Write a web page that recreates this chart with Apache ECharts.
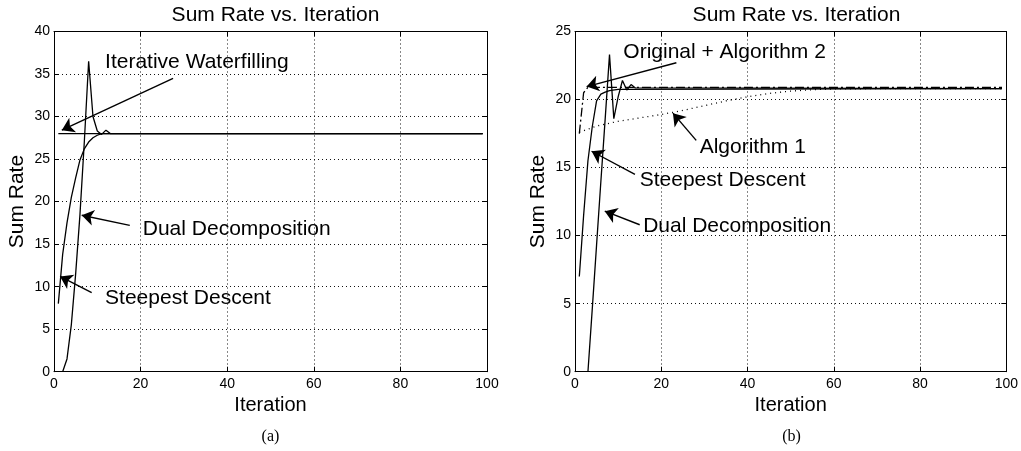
<!DOCTYPE html>
<html>
<head>
<meta charset="utf-8">
<title>Sum Rate vs. Iteration</title>
<script src="https://cdn.jsdelivr.net/npm/echarts@6/dist/echarts.min.js"></script>
<style>
    html, body { margin: 0; padding: 0; background: #fff; }
    #chart { width: 1021px; height: 451px; }
</style>
</head>
<body>
<div id="chart"></div>
<script>
    // ---- data: [iteration, sum rate] ----
    // (a)
    var waterfillA = [[1, 28], [99, 28]];
    var dualA = [[2, 0], [3, 1.5], [4, 5.5], [5, 11.5], [6, 18.5], [7, 27], [8, 36.5], [9, 30], [10, 28.3],
                 [11, 27.9], [12, 28.4], [13, 28], [99, 28]];
    var steepestA = [[1, 8], [2, 13.8], [3, 17.5], [4, 20.5], [5, 22.8], [6, 24.9], [7, 26.2], [8, 27],
                     [9, 27.5], [10, 27.8], [11, 28], [99, 28]];
    // (b)
    var dualB = [[3, 0], [4, 4.6], [5, 9.3], [6, 14], [7, 18.6], [8, 23.3], [9, 18.6], [10, 20.2], [11, 21.4],
                 [12, 20.7], [13, 21.1], [14, 20.85], [99, 20.8]];
    var steepestB = [[1, 7], [2, 11.5], [3, 15.5], [4, 18], [5, 19.9], [6, 20.4], [7, 20.55], [8, 20.65],
                     [10, 20.75], [99, 20.8]];
    var origAlg2B = [[1, 17.5], [2, 20.5], [3, 20.9], [99, 20.9]];
    var alg1B = [[1, 17.6], [5, 18.05], [10, 18.4], [15, 18.65], [20, 18.9], [25, 19.2], [30, 19.55],
                 [35, 19.9], [40, 20.2], [45, 20.45], [50, 20.62], [55, 20.72], [60, 20.78], [70, 20.8], [99, 20.8]];

    // axis ticks
    var xMax = 100, xStep = 20;
    var yMaxA = 40, yMaxB = 25, yStep = 5;

    // annotation layout (data coords): label anchor, arrow tail, arrow tip
    var notesA = [
        {text: 'Iterative Waterfilling', at: [11.8, 36.4], from: [27.5, 34.5], to: [1.8, 28.4]},
        {text: 'Dual Decomposition', at: [20.5, 16.7], from: [17.5, 17.2], to: [6.4, 18.4]},
        {text: 'Steepest Descent', at: [11.8, 8.7], from: [8.7, 9.3], to: [1.4, 11.2]}
    ];
    var notesB = [
        {text: 'Original + Algorithm 2', at: [11.2, 23.5], from: [23.5, 22.7], to: [2.7, 20.95]},
        {text: 'Algorithm 1', at: [28.9, 16.5], from: [28.1, 17.0], to: [22.7, 19.0]},
        {text: 'Steepest Descent', at: [15, 14.1], from: [13.9, 14.5], to: [3.85, 16.2]},
        {text: 'Dual Decomposition', at: [15.8, 10.7], from: [15, 10.8], to: [6.9, 11.8]}
    ];

    var FONT = 'Liberation Sans, Arial, Helvetica, sans-serif';

    var dom = document.getElementById('chart');
    var myChart = echarts.init(dom, null, {renderer: 'canvas'});

    function xAxisFor(idx, pos) {
        var main = pos === 'bottom';
        return {
            type: 'value', gridIndex: idx, position: pos,
            min: 0, max: xMax, interval: xStep,
            axisLine: {show: true, onZero: false, lineStyle: {color: '#000', width: 1}},
            axisTick: {show: true, inside: true, length: 5, lineStyle: {color: '#000'}},
            axisLabel: {show: main, color: '#000', fontSize: 14, fontFamily: FONT, margin: 5},
            splitLine: {show: main, lineStyle: {color: '#111', width: 1, type: [1, 3]}},
            name: main ? 'Iteration' : '',
            nameLocation: 'middle', nameGap: 22,
            nameTextStyle: {color: '#000', fontSize: 20, fontFamily: FONT}
        };
    }
    function yAxisFor(idx, pos, max) {
        var main = pos === 'left';
        return {
            type: 'value', gridIndex: idx, position: pos,
            min: 0, max: max, interval: yStep,
            axisLine: {show: true, onZero: false, lineStyle: {color: '#000', width: 1}},
            axisTick: {show: true, inside: true, length: 5, lineStyle: {color: '#000'}},
            axisLabel: {show: main, color: '#000', fontSize: 14, fontFamily: FONT, margin: 4},
            splitLine: {show: main, lineStyle: {color: '#111', width: 1, type: [1, 3]}},
            name: main ? 'Sum Rate' : '',
            nameLocation: 'middle', nameGap: 26,
            nameTextStyle: {color: '#000', fontSize: 21, fontFamily: FONT}
        };
    }

    function curve(name, data, axisIdx, lineType) {
        return {
            name: name, type: 'line', xAxisIndex: axisIdx, yAxisIndex: axisIdx,
            data: data, showSymbol: false, symbol: 'none', smooth: false,
            lineStyle: {color: '#000', width: 1.3, type: lineType || 'solid'},
            z: 3
        };
    }

    function noteSeries(notes, axisIdx) {
        return [{
            type: 'lines', coordinateSystem: 'cartesian2d', xAxisIndex: axisIdx, yAxisIndex: axisIdx,
            symbol: ['none', 'arrow'], symbolSize: [6, 12],
            lineStyle: {color: '#000', width: 1.4, opacity: 1, curveness: 0},
            data: notes.map(function (n) { return {coords: [n.from, n.to]}; }),
            z: 5
        }, {
            type: 'scatter', xAxisIndex: axisIdx, yAxisIndex: axisIdx, symbolSize: 0,
            itemStyle: {opacity: 1},
            data: notes.map(function (n) { return {name: n.text, value: n.at}; }),
            label: {show: true, position: 'right', distance: 0, formatter: '{b}', opacity: 1,
                    color: '#000', fontSize: 21, fontFamily: FONT},
            emphasis: {disabled: true},
            z: 6
        }];
    }

    var option = {
        animation: false,
        backgroundColor: '#fff',
        title: [
            {text: 'Sum Rate vs. Iteration', left: 270.5, top: 0, textAlign: 'center',
             textStyle: {color: '#000', fontSize: 21, fontWeight: 'normal', fontFamily: FONT}},
            {text: 'Sum Rate vs. Iteration', left: 791.5, top: 0, textAlign: 'center',
             textStyle: {color: '#000', fontSize: 21, fontWeight: 'normal', fontFamily: FONT}}
        ],
        grid: [
            {left: 54, right: 534, top: 31.5, bottom: 79.3},
            {left: 575, right: 13, top: 31.5, bottom: 79.3}
        ],
        xAxis: [xAxisFor(0, 'bottom'), xAxisFor(1, 'bottom'), xAxisFor(0, 'top'), xAxisFor(1, 'top')],
        yAxis: [yAxisFor(0, 'left', yMaxA), yAxisFor(1, 'left', yMaxB), yAxisFor(0, 'right', yMaxA), yAxisFor(1, 'right', yMaxB)],
        graphic: [
            {type: 'text', x: 270.5, y: 437, style: {text: '(a)', fill: '#000', align: 'center', verticalAlign: 'middle',
                font: '16px "Liberation Serif", "Times New Roman", serif'}},
            {type: 'text', x: 791.5, y: 437, style: {text: '(b)', fill: '#000', align: 'center', verticalAlign: 'middle',
                font: '16px "Liberation Serif", "Times New Roman", serif'}}
        ],
        series: [
            curve('Iterative Waterfilling', waterfillA, 0),
            curve('Dual Decomposition', dualA, 0),
            curve('Steepest Descent', steepestA, 0),
            curve('Algorithm 1', alg1B, 1, [1, 4]),
            curve('Original + Algorithm 2', origAlg2B, 1, [9, 3, 2, 3]),
            curve('Steepest Descent', steepestB, 1),
            curve('Dual Decomposition', dualB, 1)
        ].concat(noteSeries(notesA, 0), noteSeries(notesB, 1))
    };

    if (option && typeof option === "object") {
        myChart.setOption(option, true);
    }
</script>
</body>
</html>
